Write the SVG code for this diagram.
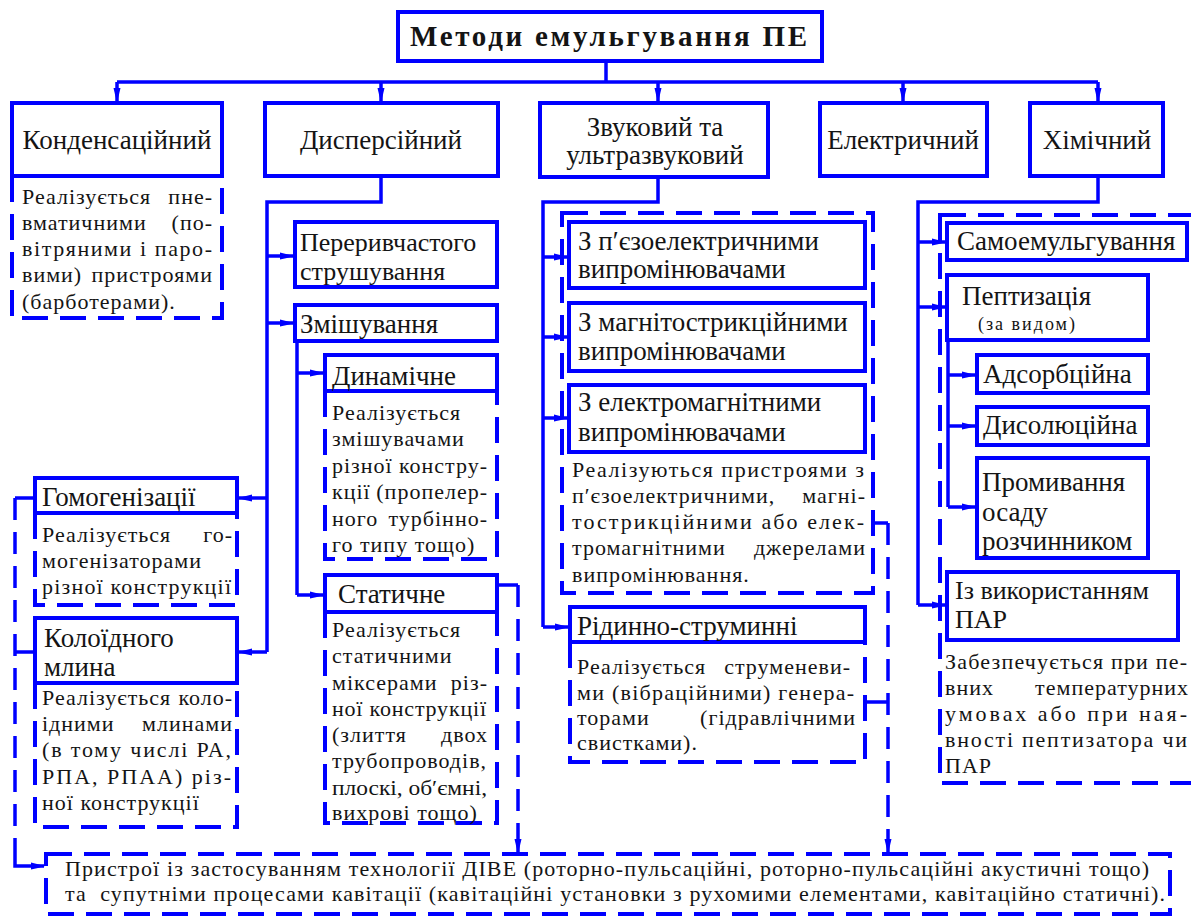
<svg xmlns="http://www.w3.org/2000/svg" width="1191" height="919" viewBox="0 0 1191 919">
<defs>
<marker id="ah" viewBox="0 0 14 10" refX="13" refY="5" markerWidth="14" markerHeight="10" markerUnits="userSpaceOnUse" orient="auto"><path d="M0,1.5 Q7,3 14,5 Q7,7 0,8.5 Z" fill="#0000ff"/></marker>
<style>
.bx{fill:#fff;stroke:#0000ff;stroke-width:4}
.ds{fill:none;stroke:#0000ff;stroke-width:4;stroke-dasharray:26 12}
.ln{fill:none;stroke:#0000ff;stroke-width:3.5}
.ld{fill:none;stroke:#0000ff;stroke-width:3.5;stroke-dasharray:22 12}
.ar{marker-end:url(#ah)}
</style>
</defs>
<rect width="1191" height="919" fill="#fff"/>
<g id="title"><rect class="bx" x="398" y="12" width="424" height="49"/><text style="font-family:'Liberation Serif';font-size:29px;font-weight:bold;letter-spacing:3px;fill:#141414" x="410" y="46" textLength="400">Методи емульгування ПЕ</text></g>

<g id="n-kond"><path class="ds" d="M12,176 V318 H222 V176"/><rect class="bx" x="12" y="103" width="210" height="73"/><text style="font-family:'Liberation Serif';font-size:27px;fill:#141414;text-anchor:middle" x="117" y="149">Конденсаційний</text>
<text style="font-family:'Liberation Serif';font-size:22px;letter-spacing:1px;fill:#141414" x="22" y="204">Реалізується</text><text style="font-family:'Liberation Serif';font-size:22px;letter-spacing:1px;fill:#141414;text-anchor:end" x="213" y="204">пне-</text>
<text style="font-family:'Liberation Serif';font-size:22px;letter-spacing:1px;fill:#141414" x="22" y="230">вматичними</text><text style="font-family:'Liberation Serif';font-size:22px;letter-spacing:1px;fill:#141414;text-anchor:end" x="213" y="230">(по-</text>
<text style="font-family:'Liberation Serif';font-size:22px;letter-spacing:1px;fill:#141414" x="22" y="256" textLength="191">вітряними і паро-</text>
<text style="font-family:'Liberation Serif';font-size:22px;letter-spacing:1px;fill:#141414" x="22" y="282">вими)</text><text style="font-family:'Liberation Serif';font-size:22px;letter-spacing:1px;fill:#141414;text-anchor:end" x="213" y="282">пристроями</text>
<text style="font-family:'Liberation Serif';font-size:22px;letter-spacing:1px;fill:#141414" x="22" y="309">(барботерами).</text></g>

<g id="n-disp"><rect class="bx" x="265" y="103" width="233" height="73"/><text style="font-family:'Liberation Serif';font-size:27px;fill:#141414;text-anchor:middle" x="381" y="149">Дисперсійний</text></g>
<g id="n-zvuk"><rect class="bx" x="540" y="103" width="228" height="74"/><text style="font-family:'Liberation Serif';font-size:27px;fill:#141414;text-anchor:middle" x="655" y="136">Звуковий та</text><text style="font-family:'Liberation Serif';font-size:27px;fill:#141414;text-anchor:middle" x="655" y="164">ультразвуковий</text></g>
<g id="n-elek"><rect class="bx" x="820" y="103" width="167" height="73"/><text style="font-family:'Liberation Serif';font-size:27px;fill:#141414;text-anchor:middle" x="903" y="149">Електричний</text></g>
<g id="n-khim"><rect class="bx" x="1030" y="103" width="133" height="73"/><text style="font-family:'Liberation Serif';font-size:27px;fill:#141414;text-anchor:middle" x="1097" y="149">Хімічний</text></g>

<g id="n-pererv"><rect class="bx" x="295" y="222" width="202" height="65"/><text style="font-family:'Liberation Serif';font-size:26px;fill:#141414" x="300" y="251">Переривчастого</text><text style="font-family:'Liberation Serif';font-size:26px;fill:#141414" x="300" y="280">струшування</text></g>
<g id="n-zmish"><rect class="bx" x="295" y="305" width="202" height="36"/><text style="font-family:'Liberation Serif';font-size:27px;fill:#141414" x="300" y="333">Змішування</text></g>

<g id="n-dynam"><path class="ds" d="M325,391 V559 H497 V391"/><rect class="bx" x="325" y="355" width="172" height="36"/><text style="font-family:'Liberation Serif';font-size:27px;fill:#141414" x="332" y="385">Динамічне</text>
<text style="font-family:'Liberation Serif';font-size:22px;letter-spacing:1px;fill:#141414" x="332" y="420">Реалізується</text>
<text style="font-family:'Liberation Serif';font-size:22px;letter-spacing:1px;fill:#141414" x="332" y="446">змішувачами</text>
<text style="font-family:'Liberation Serif';font-size:22px;letter-spacing:1px;fill:#141414" x="332" y="473">різної</text><text style="font-family:'Liberation Serif';font-size:22px;letter-spacing:1px;fill:#141414;text-anchor:end" x="488" y="473">констру-</text>
<text style="font-family:'Liberation Serif';font-size:22px;letter-spacing:1px;fill:#141414" x="332" y="499">кції</text><text style="font-family:'Liberation Serif';font-size:22px;letter-spacing:1px;fill:#141414;text-anchor:end" x="488" y="499">(пропелер-</text>
<text style="font-family:'Liberation Serif';font-size:22px;letter-spacing:1px;fill:#141414" x="332" y="526">ного</text><text style="font-family:'Liberation Serif';font-size:22px;letter-spacing:1px;fill:#141414;text-anchor:end" x="488" y="526">турбінно-</text>
<text style="font-family:'Liberation Serif';font-size:22px;letter-spacing:1px;fill:#141414" x="332" y="552">го типу тощо)</text></g>

<g id="n-statych"><path class="ds" d="M325,612 V823 H497 V612"/><rect class="bx" x="325" y="575" width="172" height="37"/><text style="font-family:'Liberation Serif';font-size:27px;fill:#141414" x="338" y="603">Статичне</text>
<text style="font-family:'Liberation Serif';font-size:22px;letter-spacing:1px;fill:#141414" x="332" y="637">Реалізується</text>
<text style="font-family:'Liberation Serif';font-size:22px;letter-spacing:1px;fill:#141414" x="332" y="663">статичними</text>
<text style="font-family:'Liberation Serif';font-size:22px;letter-spacing:1px;fill:#141414" x="332" y="690">міксерами</text><text style="font-family:'Liberation Serif';font-size:22px;letter-spacing:1px;fill:#141414;text-anchor:end" x="488" y="690">різ-</text>
<text style="font-family:'Liberation Serif';font-size:22px;letter-spacing:0px;fill:#141414" x="332" y="716" textLength="154">ної конструкції</text>
<text style="font-family:'Liberation Serif';font-size:22px;letter-spacing:1px;fill:#141414" x="332" y="742">(злиття</text><text style="font-family:'Liberation Serif';font-size:22px;letter-spacing:1px;fill:#141414;text-anchor:end" x="488" y="742">двох</text>
<text style="font-family:'Liberation Serif';font-size:22px;letter-spacing:1px;fill:#141414" x="332" y="768">трубопроводів,</text>
<text style="font-family:'Liberation Serif';font-size:22px;letter-spacing:0px;fill:#141414" x="332" y="795" textLength="155" lengthAdjust="spacingAndGlyphs">плоскі, об′ємні,</text>
<text style="font-family:'Liberation Serif';font-size:22px;letter-spacing:1px;fill:#141414" x="332" y="820">вихрові тощо)</text></g>

<g id="n-homog"><path class="ds" d="M35,513 V605 H237 V513"/><rect class="bx" x="35" y="478" width="202" height="35"/><text style="font-family:'Liberation Serif';font-size:27px;fill:#141414" x="42" y="506">Гомогенізації</text>
<text style="font-family:'Liberation Serif';font-size:22px;letter-spacing:1px;fill:#141414" x="42" y="542">Реалізується</text><text style="font-family:'Liberation Serif';font-size:22px;letter-spacing:1px;fill:#141414;text-anchor:end" x="233" y="542">го-</text>
<text style="font-family:'Liberation Serif';font-size:22px;letter-spacing:1px;fill:#141414" x="42" y="568">могенізаторами</text>
<text style="font-family:'Liberation Serif';font-size:22px;letter-spacing:1px;fill:#141414" x="42" y="594" textLength="190">різної конструкції</text></g>

<g id="n-koloid"><path class="ds" d="M35,683 V827 H237 V683"/><rect class="bx" x="35" y="618" width="202" height="65"/><text style="font-family:'Liberation Serif';font-size:27px;fill:#141414" x="44" y="647">Колоїдного</text><text style="font-family:'Liberation Serif';font-size:27px;fill:#141414" x="44" y="676">млина</text>
<text style="font-family:'Liberation Serif';font-size:22px;letter-spacing:1px;fill:#141414" x="42" y="705">Реалізується</text><text style="font-family:'Liberation Serif';font-size:22px;letter-spacing:1px;fill:#141414;text-anchor:end" x="233" y="705">коло-</text>
<text style="font-family:'Liberation Serif';font-size:22px;letter-spacing:1px;fill:#141414" x="42" y="731">ідними</text><text style="font-family:'Liberation Serif';font-size:22px;letter-spacing:1px;fill:#141414;text-anchor:end" x="233" y="731">млинами</text>
<text style="font-family:'Liberation Serif';font-size:22px;letter-spacing:1px;fill:#141414" x="42" y="757" textLength="190">(в тому числі РА,</text>
<text style="font-family:'Liberation Serif';font-size:22px;letter-spacing:1px;fill:#141414" x="42" y="784" textLength="190">РПА, РПАА) різ-</text>
<text style="font-family:'Liberation Serif';font-size:22px;letter-spacing:1px;fill:#141414" x="42" y="810">ної конструкції</text></g>

<g id="n-zvuk-group"><rect class="ds" x="562" y="213" width="311" height="380"/>
<text style="font-family:'Liberation Serif';font-size:22px;letter-spacing:1px;fill:#141414" x="572" y="477" textLength="293">Реалізуються пристроями з</text>
<text style="font-family:'Liberation Serif';font-size:22px;letter-spacing:1px;fill:#141414" x="572" y="503">п′єзоелектричними,</text><text style="font-family:'Liberation Serif';font-size:22px;letter-spacing:1px;fill:#141414;text-anchor:end" x="866" y="503">магні-</text>
<text style="font-family:'Liberation Serif';font-size:22px;letter-spacing:1px;fill:#141414" x="572" y="529" textLength="293">тострикційними або елек-</text>
<text style="font-family:'Liberation Serif';font-size:22px;letter-spacing:1px;fill:#141414" x="572" y="555">тромагнітними</text><text style="font-family:'Liberation Serif';font-size:22px;letter-spacing:1px;fill:#141414;text-anchor:end" x="866" y="555">джерелами</text>
<text style="font-family:'Liberation Serif';font-size:22px;letter-spacing:1px;fill:#141414" x="572" y="582">випромінювання.</text></g>
<g id="n-piezo"><rect class="bx" x="569" y="222" width="296" height="66"/><text style="font-family:'Liberation Serif';font-size:27px;fill:#141414" x="578" y="250">З п′єзоелектричними</text><text style="font-family:'Liberation Serif';font-size:27px;fill:#141414" x="578" y="278">випромінювачами</text></g>
<g id="n-magn"><rect class="bx" x="569" y="303" width="296" height="68"/><text style="font-family:'Liberation Serif';font-size:27px;fill:#141414" x="578" y="331">З магнітострикційними</text><text style="font-family:'Liberation Serif';font-size:27px;fill:#141414" x="578" y="360">випромінювачами</text></g>
<g id="n-elmag"><rect class="bx" x="569" y="385" width="296" height="67"/><text style="font-family:'Liberation Serif';font-size:27px;fill:#141414" x="578" y="411">З електромагнітними</text><text style="font-family:'Liberation Serif';font-size:27px;fill:#141414" x="578" y="441">випромінювачами</text></g>

<g id="n-ridyn"><path class="ds" d="M570,642 V762 H865 V642"/><rect class="bx" x="570" y="607" width="295" height="35"/><text style="font-family:'Liberation Serif';font-size:27px;fill:#141414" x="577" y="635">Рідинно-струминні</text>
<text style="font-family:'Liberation Serif';font-size:22px;letter-spacing:1px;fill:#141414" x="577" y="674">Реалізується</text><text style="font-family:'Liberation Serif';font-size:22px;letter-spacing:1px;fill:#141414;text-anchor:end" x="851" y="674">струменеви-</text>
<text style="font-family:'Liberation Serif';font-size:22px;letter-spacing:1px;fill:#141414" x="577" y="700" textLength="278">ми (вібраційними) генера-</text>
<text style="font-family:'Liberation Serif';font-size:22px;letter-spacing:1px;fill:#141414" x="577" y="725">торами</text><text style="font-family:'Liberation Serif';font-size:22px;letter-spacing:1px;fill:#141414;text-anchor:end" x="856" y="725">(гідравлічними</text>
<text style="font-family:'Liberation Serif';font-size:22px;letter-spacing:1px;fill:#141414" x="577" y="750">свистками).</text></g>

<g id="n-khim-group"><rect class="ds" x="940" y="215" width="262" height="568"/>
<text style="font-family:'Liberation Serif';font-size:22px;letter-spacing:1px;fill:#141414" x="945" y="669" textLength="243">Забезпечується при пе-</text>
<text style="font-family:'Liberation Serif';font-size:22px;letter-spacing:1px;fill:#141414" x="945" y="695">вних</text><text style="font-family:'Liberation Serif';font-size:22px;letter-spacing:1px;fill:#141414;text-anchor:end" x="1189" y="695">температурних</text>
<text style="font-family:'Liberation Serif';font-size:22px;letter-spacing:1px;fill:#141414" x="945" y="721" textLength="243">умовах або при ная-</text>
<text style="font-family:'Liberation Serif';font-size:22px;letter-spacing:1px;fill:#141414" x="945" y="747" textLength="243">вності пептизатора чи</text>
<text style="font-family:'Liberation Serif';font-size:22px;letter-spacing:1px;fill:#141414" x="945" y="773">ПАР</text></g>
<g id="n-samo"><rect class="bx" x="947" y="223" width="240" height="37"/><text style="font-family:'Liberation Serif';font-size:27px;fill:#141414" x="957" y="250">Самоемульгування</text></g>
<g id="n-pept"><rect class="bx" x="947" y="275" width="201" height="65"/><text style="font-family:'Liberation Serif';font-size:27px;fill:#141414" x="962" y="305">Пептизація</text><text style="font-family:'Liberation Serif';font-size:18px;letter-spacing:2px;fill:#141414" x="978" y="330">(за видом)</text></g>
<g id="n-adsorb"><rect class="bx" x="977" y="355" width="171" height="38"/><text style="font-family:'Liberation Serif';font-size:27px;fill:#141414" x="983" y="383">Адсорбційна</text></g>
<g id="n-dysol"><rect class="bx" x="977" y="407" width="171" height="38"/><text style="font-family:'Liberation Serif';font-size:27px;fill:#141414" x="983" y="434">Дисолюційна</text></g>
<g id="n-promyv"><rect class="bx" x="977" y="458" width="171" height="100"/><text style="font-family:'Liberation Serif';font-size:27px;fill:#141414" x="982" y="491">Промивання</text><text style="font-family:'Liberation Serif';font-size:27px;fill:#141414" x="982" y="521">осаду</text><text style="font-family:'Liberation Serif';font-size:27px;fill:#141414" x="982" y="550">розчинником</text></g>
<g id="n-par"><rect class="bx" x="947" y="572" width="231" height="68"/><text style="font-family:'Liberation Serif';font-size:26px;fill:#141414" x="955" y="599">Із використанням</text><text style="font-family:'Liberation Serif';font-size:26px;fill:#141414" x="955" y="628">ПАР</text></g>

<g id="n-bottom"><rect class="ds" x="46" y="854" width="1124" height="60"/>
<text style="font-family:'Liberation Serif';font-size:22px;letter-spacing:1px;fill:#141414" x="65" y="876" textLength="1085">Пристрої із застосуванням технології ДІВЕ (роторно-пульсаційні, роторно-пульсаційні акустичні тощо)</text>
<text style="font-family:'Liberation Serif';font-size:22px;letter-spacing:1px;fill:#141414;white-space:pre" x="65" y="901" textLength="1101" xml:space="preserve">та  супутніми процесами кавітації (кавітаційні установки з рухомими елементами, кавітаційно статичні).</text></g>

<g id="connectors">
<path class="ln" d="M606,61 V82 M117,82 H1098"/>
<path class="ln ar" d="M117,82 V101"/>
<path class="ln ar" d="M381,82 V101"/>
<path class="ln ar" d="M658,82 V101"/>
<path class="ln ar" d="M903,82 V101"/>
<path class="ln ar" d="M1098,82 V101"/>
<path class="ln" d="M381,178 V202 H267 V652"/>
<path class="ln ar" d="M267,256 H293"/>
<path class="ln ar" d="M267,323 H293"/>
<path class="ln ar" d="M267,498 H239"/>
<path class="ln ar" d="M267,652 H239"/>
<path class="ln" d="M297,343 V595"/>
<path class="ln ar" d="M297,373 H323"/>
<path class="ln ar" d="M297,595 H323"/>
<path class="ln" d="M33,498 H15 M33,652 H15"/>
<path class="ld" d="M15,498 V852"/>
<path class="ln ar" d="M15,852 V866 H44"/>
<path class="ln" d="M499,585 H518"/>
<path class="ld" d="M518,585 V836"/>
<path class="ln ar" d="M518,836 V852"/>
<path class="ln" d="M658,179 V202 H543 V627"/>
<path class="ln ar" d="M543,257 H567"/>
<path class="ln ar" d="M543,337 H567"/>
<path class="ln ar" d="M543,418 H567"/>
<path class="ln ar" d="M543,627 H568"/>
<path class="ln" d="M875,523 H888 M867,702 H888"/>
<path class="ld" d="M888,523 V836"/>
<path class="ln ar" d="M888,836 V852"/>
<path class="ln" d="M1098,178 V202 H918 V605"/>
<path class="ln ar" d="M918,242 H945"/>
<path class="ln ar" d="M918,307 H945"/>
<path class="ln ar" d="M918,605 H945"/>
<path class="ln" d="M948,342 V507"/>
<path class="ln ar" d="M948,375 H975"/>
<path class="ln ar" d="M948,426 H975"/>
<path class="ln ar" d="M948,507 H975"/>
</g>
</svg>
